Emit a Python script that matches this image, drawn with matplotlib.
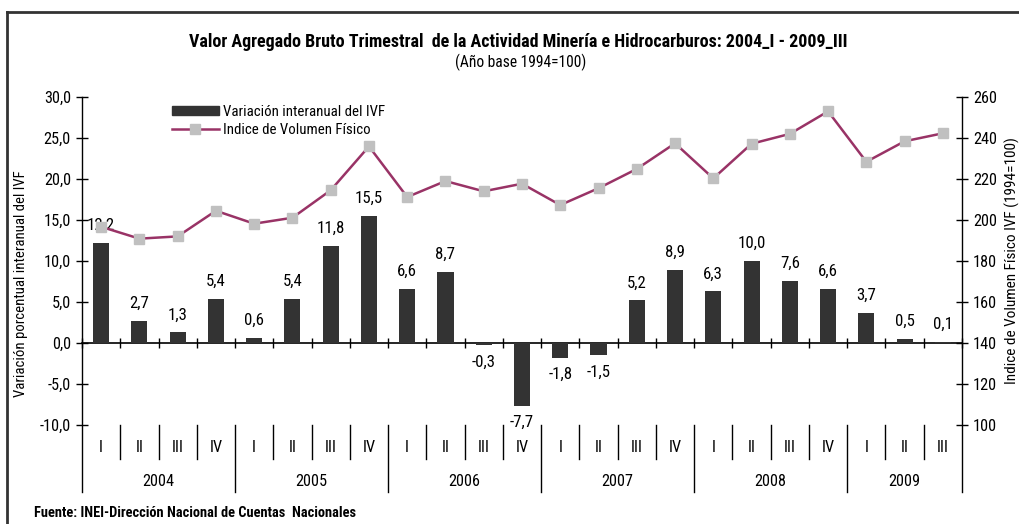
import matplotlib
matplotlib.use("Agg")
import matplotlib.pyplot as plt
import matplotlib.font_manager as fm
from matplotlib.lines import Line2D
from matplotlib.patches import Patch
import matplotlib.transforms as mtransforms

# pick a narrow font if one is installed
_names = {f.name for f in fm.fontManager.ttflist}
_stretch = {(f.name, f.stretch) for f in fm.fontManager.ttflist}
FONT = "Liberation Sans"
STRETCH = "normal"
for cand in ["Liberation Sans Narrow", "Arial Narrow", "Roboto Condensed", "Open Sans Condensed"]:
    if cand in _names:
        FONT = cand
        break
else:
    if ("DejaVu Sans", "condensed") in _stretch or ("DejaVu Sans", "semi-condensed") in _stretch:
        FONT = "DejaVu Sans"
        STRETCH = "condensed"
plt.rcParams['font.family'] = [FONT, 'DejaVu Sans']
plt.rcParams['font.stretch'] = STRETCH

years = ["2004", "2005", "2006", "2007", "2008", "2009"]
quarters_per_year = [4, 4, 4, 4, 4, 3]
quarter_names = ["I", "II", "III", "IV"]
variacion = [12.2, 2.7, 1.3, 5.4, 0.6, 5.4, 11.8, 15.5, 6.6, 8.7, -0.3, -7.7,
             -1.8, -1.5, 5.2, 8.9, 6.3, 10.0, 7.6, 6.6, 3.7, 0.5, 0.1]
ivf = [196.7, 190.9, 192.0, 204.5, 198.2, 201.1, 214.5, 235.9, 211.2, 219.0, 214.0, 217.7,
       207.3, 215.5, 224.9, 237.4, 220.3, 237.2, 242.0, 253.0, 228.4, 238.4, 242.3]

bar_color = "#333333"
line_color = "#993366"
marker_color = "#C0C0C0"

W, H = 1020, 524
fig = plt.figure(figsize=(W / 100, H / 100), dpi=100)
renderer = fig.canvas.get_renderer()


def fit_width(txt, target_px):
    """scale a text's font size so its rendered width matches target_px"""
    w = txt.get_window_extent(renderer=renderer).width
    if w > 0:
        txt.set_fontsize(txt.get_fontsize() * target_px / w)


probe = fig.text(0, 0, "Variación interanual del IVF", fontsize=10)
base_fs = 10 * 160 / probe.get_window_extent(renderer=renderer).width
probe.remove()
tick_fs = base_fs * 1.1
label_fs = base_fs * 1.13

left, right, top, bottom = 82, 962, 97, 425
ax = fig.add_axes([left / W, (H - bottom) / H, (right - left) / W, (bottom - top) / H])
ax.set_facecolor("none")
ax2 = ax.twinx()

n = len(variacion)
x = list(range(n))
ax.bar(x, variacion, width=0.42, color=bar_color, zorder=3)
ax.set_xlim(-0.5, n - 0.5)
ax.set_ylim(-10, 30)
ax.set_yticks([-10, -5, 0, 5, 10, 15, 20, 25, 30])
ax.set_yticklabels([f"{v:.1f}".replace(".", ",") for v in ax.get_yticks()], fontsize=tick_fs)

for xi, v in zip(x, variacion):
    lab = f"{v:.1f}".replace(".", ",")
    off = 12.6 if v >= 0 else -12.0
    ax.annotate(lab, (xi, v), xytext=(0, off), textcoords="offset points",
                ha="center", va="center", fontsize=label_fs)

ax2.plot(x, ivf, color=line_color, lw=1.8, marker="s", markersize=7,
         markerfacecolor=marker_color, markeredgecolor=marker_color, zorder=4)
ax2.set_ylim(100, 260)
ax2.set_yticks(range(100, 261, 20))
ax2.tick_params(axis="y", labelsize=tick_fs, direction="inout", length=8, width=1, pad=4)

for s in ["top", "right", "left"]:
    ax.spines[s].set_visible(False)
for s in ["top", "right", "left", "bottom"]:
    ax2.spines[s].set_visible(False)
ax.spines["bottom"].set_position(("data", 0))
ax.spines["bottom"].set_linewidth(1.2)
ax.set_xticks([i + 0.5 for i in range(-1, n)])
ax.set_xticklabels([])
ax.tick_params(axis="x", direction="inout", length=7, width=1)
ax.tick_params(axis="y", direction="inout", length=8, width=1, pad=4)

trans = mtransforms.blended_transform_factory(ax.transData, ax.transAxes)
sep_q = -0.1037
sep_y = -0.204
for xv in [-0.5, n - 0.5]:
    ax.plot([xv, xv], [1, sep_y], transform=trans, color="black", lw=1, clip_on=False)

idx = 0
year_bounds = []
for yr, nq in zip(years, quarters_per_year):
    start = idx
    for q in range(nq):
        ax.text(idx, -0.07, quarter_names[q], transform=trans, ha="center", va="center", fontsize=tick_fs)
        idx += 1
    year_bounds.append((start, idx))
    ax.text((start + idx - 1) / 2, -0.172, yr, transform=trans, ha="center", va="center", fontsize=tick_fs)

year_edges = set(b[1] - 0.5 for b in year_bounds[:-1])
for i in range(n - 1):
    xe = i + 0.5
    low = sep_y if xe in year_edges else sep_q
    ax.plot([xe, xe], [0, low], transform=trans, color="black", lw=1, clip_on=False)

yl = ax.set_ylabel("Variación porcentual interanual del IVF", fontsize=10)
ax.yaxis.set_label_coords(-0.061, 0.43)
yr_lab = ax2.set_ylabel("Indice de Volumen Físico IVF (1994=100)", fontsize=10)
ax2.yaxis.set_label_coords(1.048, 0.5)
for lab, target in [(yl, 225), (yr_lab, 245)]:
    h = lab.get_window_extent(renderer=renderer).height
    if h > 0:
        lab.set_fontsize(lab.get_fontsize() * target / h)

handles = [Patch(facecolor=bar_color, edgecolor=bar_color),
           Line2D([0], [0], color=line_color, lw=1.8, marker="s", markersize=7,
                  markerfacecolor=marker_color, markeredgecolor=marker_color)]
leg = ax.legend(handles, ["Variación interanual del IVF", "Indice de Volumen Físico"],
                loc="upper left", bbox_to_anchor=(0.095, 0.995), frameon=False, fontsize=base_fs,
                handlelength=3.2, handleheight=0.5, handletextpad=0.3, labelspacing=0.3,
                borderaxespad=0)

t1 = fig.text(518 / W, 1 - 42 / H,
              "Valor Agregado Bruto Trimestral  de la Actividad Minería e Hidrocarburos: 2004_I - 2009_III",
              ha="center", va="center", fontsize=12, fontweight="bold")
fit_width(t1, 660)
t2 = fig.text(521 / W, 1 - 62 / H, "(Año base 1994=100)", ha="center", va="center", fontsize=10.5)
fit_width(t2, 133)
t3 = fig.text(34 / W, 1 - 513 / H, "Fuente: INEI-Dirección Nacional de Cuentas  Nacionales",
              ha="left", va="center", fontsize=8.5, fontweight="bold")
fit_width(t3, 320)

fig.add_artist(Line2D([7 / W, 7 / W], [0, 1 - 12 / H], transform=fig.transFigure, color="#333333", lw=2))
fig.add_artist(Line2D([7 / W, 1], [1 - 12 / H, 1 - 12 / H], transform=fig.transFigure, color="#333333", lw=2))

fig.savefig("out.png", dpi=100)
